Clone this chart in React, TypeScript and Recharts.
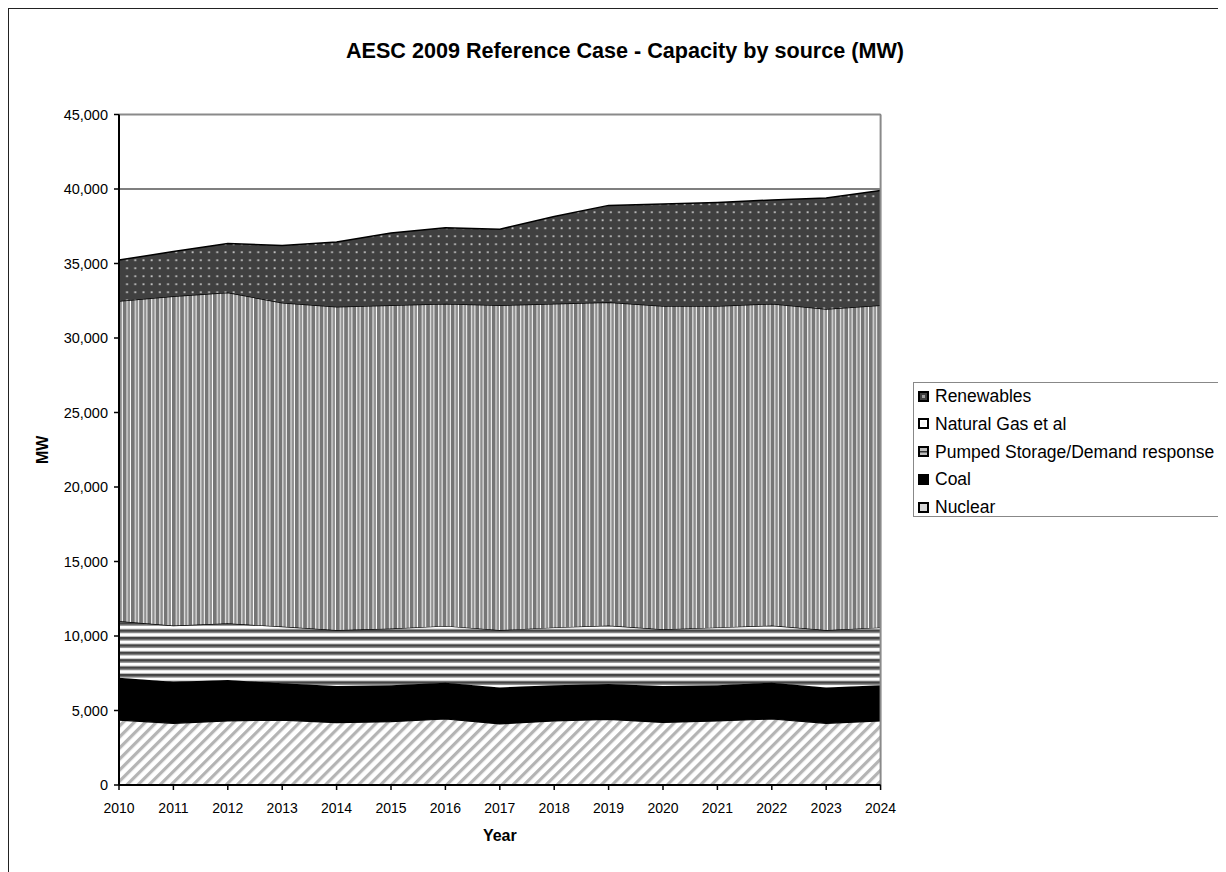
import React from 'react';
import { AreaChart, Area, XAxis, YAxis, CartesianGrid, ReferenceLine, Legend } from 'recharts';

const years = [2010, 2011, 2012, 2013, 2014, 2015, 2016, 2017, 2018, 2019, 2020, 2021, 2022, 2023, 2024];
const nuclear = [4360, 4140, 4300, 4360, 4180, 4250, 4430, 4100, 4300, 4400, 4200, 4300, 4430, 4140, 4300];
const coal = [2840, 2790, 2750, 2470, 2470, 2450, 2440, 2450, 2400, 2380, 2450, 2400, 2440, 2410, 2400];
const pumped = [3800, 3770, 3800, 3800, 3750, 3800, 3800, 3850, 3870, 3920, 3800, 3870, 3830, 3850, 3870];
const gas = [21480, 22100, 22200, 21740, 21700, 21700, 21630, 21800, 21730, 21700, 21700, 21580, 21600, 21550, 21630];
const renewables = [2750, 3000, 3300, 3830, 4350, 4850, 5100, 5100, 5850, 6500, 6850, 6950, 6960, 7450, 7700];

const yTicks = [0, 5000, 10000, 15000, 20000, 25000, 30000, 35000, 40000, 45000];
const legendNames = ['Renewables', 'Natural Gas et al', 'Pumped Storage/Demand response', 'Coal', 'Nuclear'];

const data = years.map((year, i) => ({
  year,
  nuclear: nuclear[i],
  coal: coal[i],
  pumped: pumped[i],
  gas: gas[i],
  renewables: renewables[i],
}));

const FONT = '"Liberation Sans", Arial, Helvetica, sans-serif';

function Swatch({ name }: { name: string }) {
  const common = { x: 1, y: 1, width: 9, height: 9, stroke: '#000', strokeWidth: 2 };
  let inner: React.ReactNode = null;
  let fill = '#fff';
  if (name === 'Renewables') {
    fill = '#404040';
    inner = <rect x={4} y={4} width={3} height={3} fill="#a0a0a0" />;
  } else if (name === 'Natural Gas et al') {
    fill = '#fff';
    inner = <rect x={3.5} y={3.5} width={4} height={4} fill="#f4f4f4" />;
  } else if (name === 'Pumped Storage/Demand response') {
    fill = '#bdbdbd';
    inner = <rect x={2} y={5} width={7} height={1.5} fill="#333" />;
  } else if (name === 'Coal') {
    fill = '#000';
  } else {
    fill = '#d6d6d6';
  }
  return (
    <svg width={11} height={11} style={{ display: 'block' }}>
      <rect {...common} fill={fill} />
      {inner}
    </svg>
  );
}

function LegendBox() {
  return (
    <div
      style={{
        width: 310,
        height: 135,
        border: '1.5px solid #888',
        boxSizing: 'border-box',
        background: '#fff',
        position: 'relative',
        fontFamily: FONT,
      }}
    >
      {legendNames.map((n, i) => (
        <div
          key={n}
          style={{
            position: 'absolute',
            left: 4,
            top: 13 + i * 27.8 - 11,
            height: 22,
            display: 'flex',
            alignItems: 'center',
            whiteSpace: 'nowrap',
          }}
        >
          <Swatch name={n} />
          <span style={{ marginLeft: 6, fontSize: 17.5, color: '#000', lineHeight: '22px' }}>{n}</span>
        </div>
      ))}
    </div>
  );
}

export default function App() {
  return (
    <div style={{ position: 'relative', width: 1218, height: 864, fontFamily: FONT }}>
      <svg width={0} height={0} style={{ position: 'absolute' }}>
        <defs>
          <pattern id="patNuclear" patternUnits="userSpaceOnUse" width={7.8} height={7.8} patternTransform="rotate(45)">
            <rect width={7.8} height={7.8} fill="#fff" />
            <rect x={0} y={0} width={3.2} height={7.8} fill="#b4b4b4" />
          </pattern>
          <pattern id="patPumped" patternUnits="userSpaceOnUse" width={8} height={7.4}>
            <rect width={8} height={7.4} fill="#fff" />
            <rect x={0} y={0} width={8} height={2.6} fill="#444" />
            <rect x={0} y={2.6} width={8} height={1} fill="#8a8a8a" />
            <rect x={0} y={6.4} width={8} height={1} fill="#b8b8b8" />
          </pattern>
          <pattern id="patGas" patternUnits="userSpaceOnUse" width={8.2} height={8}>
            <rect width={8.2} height={8} fill="#fff" />
            <rect x={0} y={0} width={3.8} height={8} fill="#767676" />
            <rect x={4.8} y={0} width={2.4} height={8} fill="#8c8c8c" />
          </pattern>
          <pattern id="patRenew" patternUnits="userSpaceOnUse" width={8.2} height={8}>
            <rect width={8.2} height={8} fill="#404040" />
            <rect x={3.3} y={3.3} width={1.9} height={1.9} fill="#bdbdbd" />
          </pattern>
        </defs>
      </svg>

      <div
        style={{
          position: 'absolute',
          left: 0,
          top: -1,
          width: 1218,
          height: 865,
          borderTop: '2px solid #222',
          borderLeft: '1.5px solid #222',
          boxSizing: 'border-box',
          pointerEvents: 'none',
          zIndex: 10,
        }}
      />

      <div
        style={{
          position: 'absolute',
          left: 217,
          top: 32,
          width: 800,
          textAlign: 'center',
          fontSize: 21.6,
          lineHeight: '21px',
          fontWeight: 'bold',
          color: '#000',
        }}
      >
        AESC 2009 Reference Case - Capacity by source (MW)
      </div>

      <AreaChart
        width={1218}
        height={864}
        data={data}
        margin={{ top: 106.5, right: 345.4, bottom: 57, left: 51 }}
      >
        <CartesianGrid vertical={false} stroke="#000" strokeWidth={1.2} />
        <XAxis
          dataKey="year"
          type="number"
          domain={[2010, 2024]}
          ticks={years}
          height={30}
          interval={0}
          tickSize={5}
          tickMargin={13}
          axisLine={{ stroke: '#000', strokeWidth: 2 }}
          tickLine={{ stroke: '#000', strokeWidth: 1.5 }}
          tick={{ fill: '#000', fontSize: 14, fontFamily: FONT }}
          label={{
            content: (props: any) => {
              const vb = props.viewBox || { x: 111, y: 777, width: 761.6 };
              return (
                <text
                  x={vb.x + vb.width / 2}
                  y={833}
                  textAnchor="middle"
                  fontSize={16}
                  fontWeight="bold"
                  fontFamily={FONT}
                  fill="#000"
                >
                  Year
                </text>
              );
            },
          }}
        />
        <YAxis
          type="number"
          domain={[0, 45000]}
          ticks={yTicks}
          width={60}
          interval={0}
          tickSize={5}
          tickMargin={6}
          tickFormatter={(v: number) => v.toLocaleString('en-US')}
          axisLine={{ stroke: '#000', strokeWidth: 2 }}
          tickLine={{ stroke: '#000', strokeWidth: 1.5 }}
          tick={{ fill: '#000', fontSize: 14.5, fontFamily: FONT }}
          label={{
            content: (props: any) => {
              const vb = props.viewBox || { x: 51, y: 106.5, height: 670.5 };
              const cx = vb.x - 17;
              const cy = vb.y + vb.height / 2;
              return (
                <text
                  x={cx}
                  y={cy}
                  transform={`rotate(-90 ${cx} ${cy})`}
                  textAnchor="middle"
                  dominantBaseline="central"
                  fontSize={16}
                  fontWeight="bold"
                  fontFamily={FONT}
                  fill="#000"
                >
                  MW
                </text>
              );
            },
          }}
        />
        <Area type="linear" dataKey="nuclear" name="Nuclear" stackId="1" stroke="#000" strokeWidth={1.2} fill="url(#patNuclear)" fillOpacity={1} isAnimationActive={false} />
        <Area type="linear" dataKey="coal" name="Coal" stackId="1" stroke="#000" strokeWidth={1.2} fill="#000" fillOpacity={1} isAnimationActive={false} />
        <Area type="linear" dataKey="pumped" name="Pumped Storage/Demand response" stackId="1" stroke="#000" strokeWidth={1.2} fill="url(#patPumped)" fillOpacity={1} isAnimationActive={false} />
        <Area type="linear" dataKey="gas" name="Natural Gas et al" stackId="1" stroke="#000" strokeWidth={1.5} fill="url(#patGas)" fillOpacity={1} isAnimationActive={false} />
        <Area type="linear" dataKey="renewables" name="Renewables" stackId="1" stroke="#000" strokeWidth={1.5} fill="url(#patRenew)" fillOpacity={1} isAnimationActive={false} />
        <ReferenceLine y={45000} stroke="#8a8a8a" strokeWidth={2} />
        <ReferenceLine x={2024} stroke="#8a8a8a" strokeWidth={2} />
        <Legend
          layout="vertical"
          align="center"
          verticalAlign="middle"
          wrapperStyle={{ left: 905, top: 374, width: 310, height: 135 }}
          content={() => <LegendBox />}
        />
      </AreaChart>
    </div>
  );
}
